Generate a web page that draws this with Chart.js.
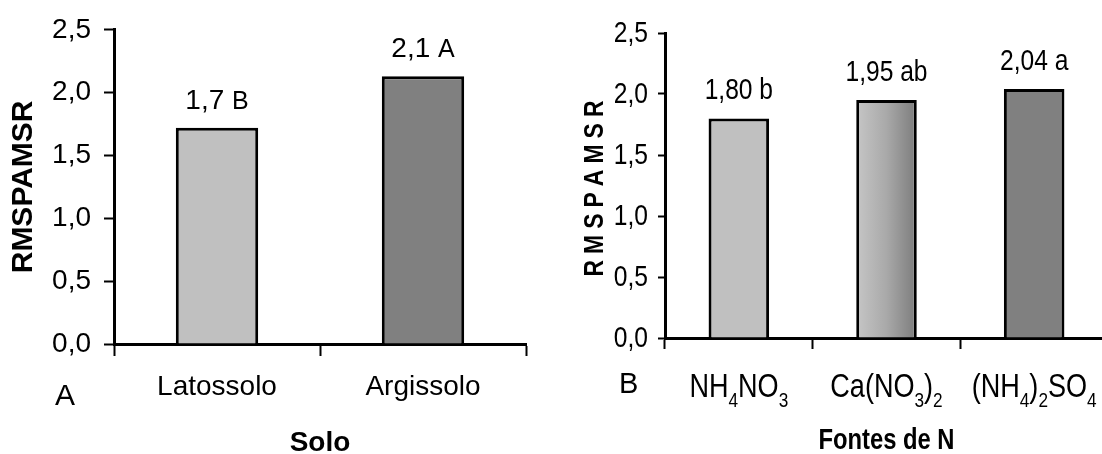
<!DOCTYPE html>
<html>
<head>
<meta charset="utf-8">
<script src="https://cdn.jsdelivr.net/npm/chart.js@4.4.1/dist/chart.umd.min.js"></script>
<style>
    html, body { margin: 0; padding: 0; background: #fff; overflow: hidden; width: 1102px; height: 454px; }
    #soloChart { position: absolute; left: 0; top: 0; }
    #fontesChart { position: absolute; left: 550px; top: 0; }
</style>
</head>
<body>
<canvas id="soloChart" width="550" height="454"></canvas>
<canvas id="fontesChart" width="560" height="454"></canvas>
<script>
// Painel A - Solo
var soloLabels = ['Latossolo', 'Argissolo'];
var soloValues = [1.72, 2.13];
var soloText = ['1,7', '2,1'];
var soloLetters = ['B', 'A'];

// Painel B - Fontes de N (digits in the names are drawn as subscripts)
var fontesLabels = ['NH4NO3', 'Ca(NO3)2', '(NH4)2SO4'];
var fontesValues = [1.80, 1.95, 2.04];
var fontesText = ['1,80', '1,95', '2,04'];
var fontesLetters = ['b', 'ab', 'a'];

// Y axis ticks (same for both panels)
var yTicks = [0, 0.5, 1.0, 1.5, 2.0, 2.5];

var SANS = '"Liberation Sans", Arial, sans-serif';
var SQUEEZE = 0.82;   // no narrow font installed, so panel B text is squeezed by hand

Chart.defaults.color = '#000';
Chart.defaults.animation = false;
Chart.defaults.plugins.legend.display = false;
Chart.defaults.plugins.tooltip.enabled = false;

function commaTick(v) {
    return v.toFixed(1).replace('.', ',');
}

function setTicks(scale) {
    scale.ticks = yTicks.map(function (v) { return {value: v}; });
}

// draws narrow text: Liberation Sans squeezed horizontally
function narrow(c, text, x, y, font, align, baseline) {
    c.save();
    c.font = font;
    c.textBaseline = baseline || 'alphabetic';
    c.textAlign = 'left';
    var w = c.measureText(text).width * SQUEEZE;
    var x0 = align === 'center' ? x - w / 2 : (align === 'right' ? x - w : x);
    c.translate(x0, y);
    c.scale(SQUEEZE, 1);
    c.fillText(text, 0, 0);
    c.restore();
    return w;
}

function narrowWidth(c, text, font) {
    c.save();
    c.font = font;
    var w = c.measureText(text).width * SQUEEZE;
    c.restore();
    return w;
}

// Panel A extras: value labels over bars and the panel letter
var soloMarks = {
    id: 'soloMarks',
    afterDatasetsDraw: function (chart) {
        var c = chart.ctx;
        var meta = chart.getDatasetMeta(0);
        c.save();
        c.fillStyle = '#000';
        c.textAlign = 'left';
        c.textBaseline = 'alphabetic';
        meta.data.forEach(function (bar, i) {
            var t1 = soloText[i] + ' ';
            c.font = '28px ' + SANS;
            var w1 = c.measureText(t1).width;
            c.font = '25px ' + SANS;
            var w2 = c.measureText(soloLetters[i]).width;
            var x0 = bar.x - (w1 + w2) / 2;
            var y = bar.y - 19;
            c.font = '28px ' + SANS;
            c.fillText(t1, x0, y);
            c.font = '25px ' + SANS;
            c.fillText(soloLetters[i], x0 + w1, y);
        });
        c.font = '30px ' + SANS;
        c.fillText('A', 55, 405);
        c.restore();
    }
};

// Panel B extras: y tick labels, value labels, subscript category labels, titles, panel letter
var fontesMarks = {
    id: 'fontesMarks',
    afterDatasetsDraw: function (chart) {
        var c = chart.ctx;
        var area = chart.chartArea;
        var meta = chart.getDatasetMeta(0);
        var xs = chart.scales.x;
        var ys = chart.scales.y;
        c.save();
        c.fillStyle = '#000';

        // y tick labels
        ys.ticks.forEach(function (t) {
            narrow(c, commaTick(t.value), area.left - 17, ys.getPixelForValue(t.value) + 1, '30px ' + SANS, 'right', 'middle');
        });

        // values + letters
        meta.data.forEach(function (bar, i) {
            narrow(c, fontesText[i] + ' ' + fontesLetters[i], bar.x, bar.y - 19, '30px ' + SANS, 'center');
        });

        // category names with subscripts
        fontesLabels.forEach(function (name, i) {
            var parts = name.match(/\d+|\D+/g);
            var fonts = parts.map(function (p) { return (/\d/.test(p) ? '21px ' : '33px ') + SANS; });
            var widths = parts.map(function (p, k) { return narrowWidth(c, p, fonts[k]); });
            var total = widths.reduce(function (a, b) { return a + b; }, 0);
            var x = xs.getPixelForValue(i) - total / 2;
            var base = area.bottom + 59;
            parts.forEach(function (p, k) {
                var sub = /\d/.test(p);
                narrow(c, p, x, sub ? base + 10 : base, fonts[k], 'left');
                x += widths[k];
            });
        });

        // x title
        narrow(c, 'Fontes de N', (area.left + area.right) / 2, 449, 'bold 29px ' + SANS, 'center');

        // y title, spaced letters
        c.save();
        c.translate(45, (area.top + area.bottom) / 2 + 3);
        c.rotate(-Math.PI / 2);
        var letters = 'RMSPAMSR'.split('');
        var lf = 'bold 28px ' + SANS;
        var gap = 6;
        var lw = letters.map(function (l) { return narrowWidth(c, l, lf); });
        var tot = lw.reduce(function (a, b) { return a + b; }, 0) + gap * (letters.length - 1);
        var lx = -tot / 2;
        letters.forEach(function (l, k) {
            narrow(c, l, lx, 0, lf, 'left', 'middle');
            lx += lw[k] + gap;
        });
        c.restore();

        c.font = '29px ' + SANS;
        c.textAlign = 'left';
        c.textBaseline = 'alphabetic';
        c.fillText('B', 69, 393);
        c.restore();
    }
};

// Panel A
var soloChart = new Chart(document.getElementById('soloChart'), {
    type: 'bar',
    data: {
        labels: soloLabels,
        datasets: [{
            data: soloValues,
            backgroundColor: ['#c0c0c0', '#808080'],
            borderColor: '#000',
            borderWidth: 3,
            categoryPercentage: 1,
            barPercentage: 0.4
        }]
    },
    options: {
        responsive: false,
        layout: {padding: {left: 0, top: 26, right: 24, bottom: 0}},
        scales: {
            x: {
                afterFit: function (scale) { scale.height = 110; },
                grid: {drawOnChartArea: false, drawTicks: true, tickLength: 12, tickColor: '#000', tickWidth: 2, offset: true},
                border: {display: true, color: '#000', width: 3},
                ticks: {font: {family: SANS, size: 28}, padding: 14, color: '#000'},
                title: {display: true, text: 'Solo', font: {family: SANS, size: 28, weight: 'bold'}, padding: {top: 0, bottom: -6}, color: '#000'}
            },
            y: {
                min: 0,
                max: 2.5,
                afterBuildTicks: setTicks,
                afterFit: function (scale) { scale.width = 114; },
                grid: {drawOnChartArea: false, drawTicks: true, tickLength: 10, tickColor: '#000', tickWidth: 2},
                border: {display: true, color: '#000', width: 3},
                ticks: {font: {family: SANS, size: 28}, padding: 13, color: '#000', callback: commaTick},
                title: {display: true, text: 'RMSPAMSR', font: {family: SANS, size: 30, weight: 'bold'}, padding: {top: 6, bottom: 0}, color: '#000'}
            }
        }
    },
    plugins: [soloMarks]
});

// Panel B
function fontesColor(ctx) {
    var chart = ctx.chart;
    if (ctx.dataIndex === 0) return '#c0c0c0';
    if (ctx.dataIndex === 2) return '#808080';
    if (!chart.chartArea) return '#a0a0a0';
    var xs = chart.scales.x;
    var cx = xs.getPixelForValue(ctx.dataIndex);
    var half = xs.width / fontesLabels.length * 0.41 / 2;
    var g = chart.ctx.createLinearGradient(cx - half, 0, cx + half, 0);
    g.addColorStop(0, '#c6c6c6');
    g.addColorStop(0.5, '#a9a9a9');
    g.addColorStop(1, '#7c7c7c');
    return g;
}

var fontesChart = new Chart(document.getElementById('fontesChart'), {
    type: 'bar',
    data: {
        labels: fontesLabels,
        datasets: [{
            data: fontesValues,
            backgroundColor: fontesColor,
            borderColor: '#000',
            borderWidth: 3,
            categoryPercentage: 1,
            barPercentage: 0.41
        }]
    },
    options: {
        responsive: false,
        layout: {padding: {left: 0, top: 33, right: 2, bottom: 0}},
        scales: {
            x: {
                afterFit: function (scale) { scale.height = 116; },
                grid: {drawOnChartArea: false, drawTicks: true, tickLength: 11, tickColor: '#000', tickWidth: 2, offset: true},
                border: {display: true, color: '#000', width: 3},
                ticks: {display: false}
            },
            y: {
                min: 0,
                max: 2.5,
                afterBuildTicks: setTicks,
                afterFit: function (scale) { scale.width = 115; },
                grid: {drawOnChartArea: false, drawTicks: true, tickLength: 7, tickColor: '#000', tickWidth: 2},
                border: {display: true, color: '#000', width: 3},
                ticks: {display: false}
            }
        }
    },
    plugins: [fontesMarks]
});
</script>
</body>
</html>
